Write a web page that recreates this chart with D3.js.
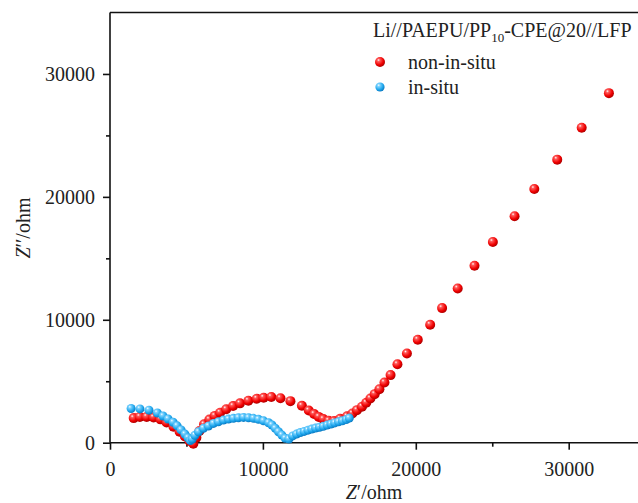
<!DOCTYPE html>
<html><head><meta charset="utf-8">
<script src="https://cdn.jsdelivr.net/npm/d3@7"></script>
<style>body{margin:0;background:#fff}svg{display:block}</style>
</head><body>
<svg id="c" width="638" height="503"></svg>
<script>
// ---- data ----
const nonInSituZre = [1550,1950,2400,2850,3300,3700,4150,4550,4900,5200,5450,5650,5850,6150,6500,6850,7200,7600,8050,8500,9050,9600,10050,10550,11150,11800,12550,13000,13350,13650,13950,14300,14650,15050,15500,15850,16150,16480,16760,17030,17310,17620,17950,18350,18800,19420,20130,20940,21720,22740,23840,25040,26460,27750,29250,30850,32630];
const nonInSituZim = [2000,2100,2100,2050,1900,1650,1300,900,500,150,-80,400,950,1500,1880,2180,2440,2720,2980,3200,3420,3580,3660,3720,3620,3380,3000,2620,2330,2100,1920,1790,1760,1950,2150,2380,2650,2930,3250,3600,3950,4350,4900,5500,6380,7260,8380,9600,10950,12550,14390,16330,18430,20640,23030,25620,28440];
const inSituZre = [1380,1960,2550,3100,3470,3800,4130,4390,4650,4900,5100,5250,5380,5550,5790,6110,6440,6770,7090,7420,7750,8070,8400,8730,9060,9390,9710,10040,10370,10590,10810,11020,11240,11460,11700,11950,12200,12450,12700,12950,13200,13450,13700,13950,14200,14450,14700,14950,15200,15450,15650];
const inSituZim = [2780,2750,2650,2420,2170,1930,1660,1370,1040,700,400,180,300,600,890,1170,1360,1570,1700,1840,1920,1980,2030,2060,2030,1980,1900,1780,1620,1440,1170,890,620,360,300,550,700,830,920,1020,1110,1190,1260,1330,1430,1520,1610,1700,1780,1880,2000];
const seriesNames = ["non-in-situ","in-situ"];
const xTicks = [0,10000,20000,30000];
const yTicks = [0,10000,20000,30000];

// ---- layout ----
const svg = d3.select("#c");
const x = d3.scaleLinear().domain([0,35000]).range([110,110+35000*0.01529]);
const y = d3.scaleLinear().domain([0,35000]).range([442.7,12.5]);
const font = "'Liberation Serif','Times New Roman',serif";

const defs = svg.append("defs");
function grad(id, c0, c1, c2){
  const g = defs.append("radialGradient").attr("id",id).attr("cx","38%").attr("cy","35%").attr("r","65%").attr("fx","35%").attr("fy","30%");
  g.append("stop").attr("offset","0%").attr("stop-color","#ffffff");
  g.append("stop").attr("offset","22%").attr("stop-color",c0);
  g.append("stop").attr("offset","70%").attr("stop-color",c1);
  g.append("stop").attr("offset","100%").attr("stop-color",c2);
}
grad("gRed","#ff5a5a","#f00000","#b00000");
grad("gBlue","#7fd4ff","#1ea6ec","#0b7cc4");

// axes
const axisColor = "#111";
svg.append("line").attr("x1",110).attr("x2",638).attr("y1",y(35000)).attr("y2",y(35000)).attr("stroke",axisColor).attr("stroke-width",1.6);

const xAxis = d3.axisBottom(x).tickValues(xTicks).tickSize(7).tickPadding(12).tickFormat(d3.format("d"));
const gx = svg.append("g").attr("transform",`translate(0,${y(0)})`).call(xAxis);
gx.select(".domain").attr("d",`M110,0H638`).attr("stroke",axisColor).attr("stroke-width",1.6);
svg.append("g").attr("transform",`translate(0,${y(0)})`)
  .call(d3.axisBottom(x).tickValues([5000,15000,25000]).tickSize(4).tickFormat(""))
  .call(g=>g.select(".domain").remove());

const yAxis = d3.axisLeft(y).tickValues(yTicks).tickSize(7).tickPadding(8).tickFormat(d3.format("d"));
const gy = svg.append("g").attr("transform",`translate(${x(0)},0)`).call(yAxis);
gy.select(".domain").attr("d",`M0,${y(0)}V${y(35000)}`).attr("stroke",axisColor).attr("stroke-width",1.6);
svg.append("g").attr("transform",`translate(${x(0)},0)`)
  .call(d3.axisLeft(y).tickValues([5000,15000,25000]).tickSize(4).tickFormat(""))
  .call(g=>g.select(".domain").remove());

svg.selectAll(".tick line").attr("stroke",axisColor).attr("stroke-width",1.6);
svg.selectAll(".tick text").attr("font-family",font).attr("font-size",20).attr("fill","#222");

// axis titles
const xt = svg.append("text").attr("x",374).attr("y",499).attr("text-anchor","middle")
  .attr("font-family",font).attr("font-size",20).attr("fill","#222");
xt.append("tspan").attr("font-style","italic").text("Z");
xt.append("tspan").text("′/ohm");
const yt = svg.append("text").attr("transform","translate(30,228) rotate(-90)").attr("text-anchor","middle")
  .attr("font-family",font).attr("font-size",20).attr("fill","#222");
yt.append("tspan").attr("font-style","italic").text("Z");
yt.append("tspan").text("′′/ohm");

// data points
const red = nonInSituZre.map((v,i)=>[v,nonInSituZim[i]]);
const blue = inSituZre.map((v,i)=>[v,inSituZim[i]]);
svg.append("g").selectAll("circle").data(red).join("circle")
  .attr("cx",d=>x(d[0])).attr("cy",d=>y(d[1])).attr("r",5).attr("fill","url(#gRed)");
svg.append("g").selectAll("circle").data(blue).join("circle")
  .attr("cx",d=>x(d[0])).attr("cy",d=>y(d[1])).attr("r",4.5).attr("fill","url(#gBlue)");

// legend
const lt = svg.append("text").attr("x",373).attr("y",37).attr("font-family",font).attr("font-size",20).attr("fill","#222");
lt.append("tspan").text("Li//PAEPU/PP");
lt.append("tspan").attr("font-size",13).attr("dy",5).text("10");
lt.append("tspan").attr("dy",-5).text("-CPE@20//LFP");
const leg = svg.append("g");
[["url(#gRed)",62,5],["url(#gBlue)",87,4.6]].forEach((s,i)=>{
  leg.append("circle").attr("cx",380).attr("cy",s[1]).attr("r",s[2]).attr("fill",s[0]);
  leg.append("text").attr("x",408).attr("y",s[1]+7).attr("font-family",font).attr("font-size",20).attr("fill","#222").text(seriesNames[i]);
});
</script>
</body></html>
